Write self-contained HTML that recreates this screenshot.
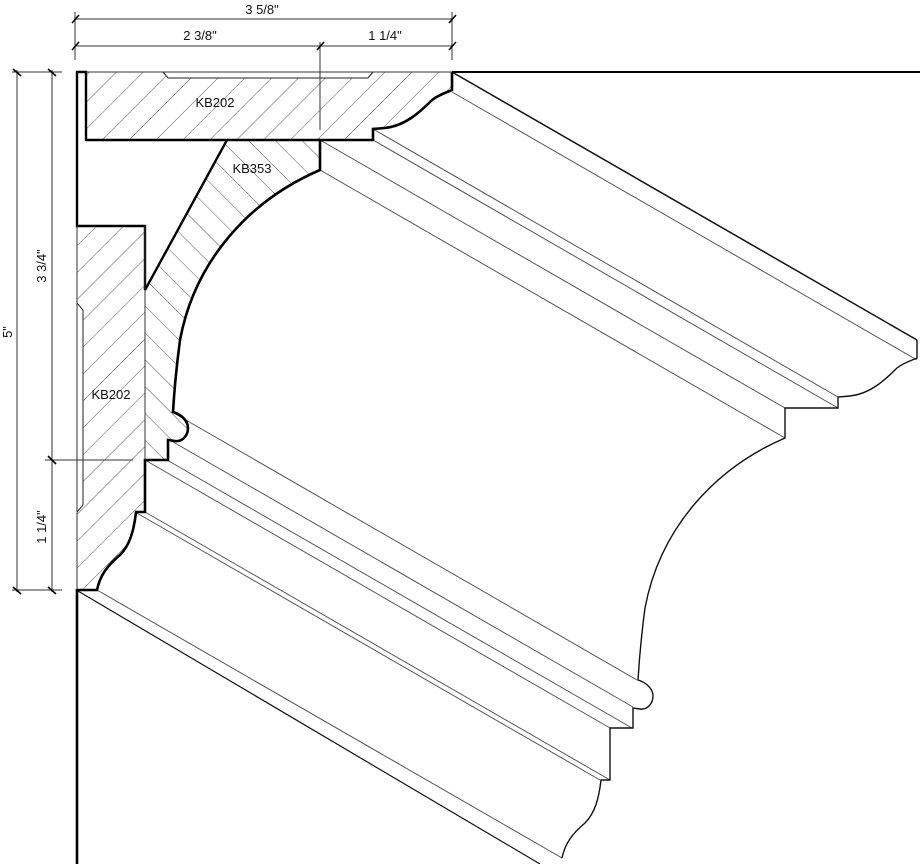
<!DOCTYPE html>
<html><head><meta charset="utf-8"><style>
html,body{margin:0;padding:0;background:#fff;width:920px;height:864px;overflow:hidden}
svg{display:block}
text{font-family:"Liberation Sans",sans-serif;font-size:13px;fill:#111}
</style></head><body>
<svg width="920" height="864" viewBox="0 0 920 864" xmlns="http://www.w3.org/2000/svg">
<defs>
<pattern id="h1" patternUnits="userSpaceOnUse" width="19" height="19" patternTransform="rotate(45)">
<line x1="0" y1="0" x2="0" y2="19" stroke="#444" stroke-width="0.9"/></pattern>
<pattern id="h2" patternUnits="userSpaceOnUse" width="19" height="19" patternTransform="rotate(-45)">
<line x1="0" y1="0" x2="0" y2="19" stroke="#444" stroke-width="0.9"/></pattern>
</defs>

<path d="M86,72 L452,72 L452,90 C448,92 440,94 432,100 C420,112 405,126 385,128 L373,129 L373,140 L86,140 Z" fill="url(#h1)"/>
<path d="M77,226 L145,226 L145,512 L136,512 C134,530 130,545 120,555 C108,565 100,575 97,590 L77,590 Z" fill="url(#h1)"/>
<path d="M227,140 L320,140 L320,170 C250,200 195,260 180,340 C176,370 174,395 173,412 C180,414 188,420 188,428 C188,436 182,442 175,441 L168,440 L168,460 L145,460 L145,290 Z" fill="url(#h2)"/>

<path d="M163,72 L168,78 L368,78 L373,72" fill="#fff" stroke="#222" stroke-width="1"/>
<path d="M77,303 L83,310 L83,505 L77,512" fill="#fff" stroke="#222" stroke-width="1"/>

<g stroke="#555" stroke-width="1" fill="none">
<line x1="452" y1="72" x2="917" y2="340" stroke="#111" stroke-width="1.5"/>
<line x1="452" y1="92" x2="917" y2="360"/>
<line x1="373" y1="129" x2="838" y2="397"/>
<line x1="373" y1="140" x2="838" y2="408"/>
<line x1="320" y1="140" x2="785" y2="408"/>
<line x1="320" y1="170" x2="785" y2="438"/>
<line x1="172" y1="412" x2="637" y2="680"/>
<line x1="168" y1="439" x2="633" y2="707"/>
<line x1="167" y1="460" x2="632" y2="728"/>
<line x1="145" y1="460" x2="610" y2="728"/>
<line x1="135" y1="512" x2="600" y2="780"/>
<line x1="145" y1="512" x2="610" y2="780"/>
<line x1="97" y1="590" x2="562" y2="858"/>
<line x1="78" y1="591" x2="540" y2="864" stroke="#111" stroke-width="1.2"/>
</g>

<path transform="translate(465,268)" d="M452,72 L452,90 C448,92 440,94 432,100 C420,112 405,126 385,128 L373,129 L373,140 L320,140 L320,170 C250,200 195,260 180,340 C176,370 174,395 173,412 C180,414 188,420 188,428 C188,436 182,442 175,441 L168,440 L168,460 L145,460 L145,512 L136,512 C134,530 130,545 120,555 C108,565 100,575 97,590" fill="none" stroke="#111" stroke-width="1.4"/>

<path d="M452,72 L452,90 C448,92 440,94 432,100 C420,112 405,126 385,128 L373,129 L373,140 L320,140 L320,170 C250,200 195,260 180,340 C176,370 174,395 173,412 C180,414 188,420 188,428 C188,436 182,442 175,441 L168,440 L168,460 L145,460 L145,512 L136,512 C134,530 130,545 120,555 C108,565 100,575 97,590 L77,590" fill="none" stroke="#000" stroke-width="2.6"/>
<path d="M77,72 L86,72 L86,140 L227,140 L145,290 L145,226 L77,226 Z" fill="#fff" stroke="#000" stroke-width="2.4"/>
<line x1="227" y1="140" x2="320" y2="140" stroke="#000" stroke-width="2.4"/>
<line x1="145" y1="226" x2="145" y2="460" stroke="#333" stroke-width="1"/>
<line x1="77" y1="226" x2="77" y2="590" stroke="#333" stroke-width="1"/>
<line x1="86" y1="72" x2="452" y2="72" stroke="#333" stroke-width="1"/>

<line x1="452" y1="72" x2="920" y2="72" stroke="#000" stroke-width="2"/>
<line x1="77" y1="589" x2="77" y2="864" stroke="#000" stroke-width="2.6"/>

<g stroke="#333" stroke-width="1" fill="none">
<line x1="75" y1="19" x2="452" y2="19"/>
<line x1="75" y1="46" x2="452" y2="46"/>
<line x1="75" y1="12" x2="75" y2="60"/>
<line x1="452" y1="12" x2="452" y2="60"/>
<line x1="320" y1="42" x2="320" y2="130"/>
<line x1="17" y1="70" x2="17" y2="592"/>
<line x1="52" y1="70" x2="52" y2="592"/>
<line x1="12" y1="72" x2="62" y2="72"/>
<line x1="12" y1="590" x2="62" y2="590"/>
<line x1="45" y1="460" x2="133" y2="460"/>
</g>
<g stroke="#000" stroke-width="1.6">
<line x1="72" y1="23" x2="79" y2="15"/><line x1="449" y1="23" x2="456" y2="15"/>
<line x1="72" y1="50" x2="79" y2="42"/><line x1="449" y1="50" x2="456" y2="42"/><line x1="317" y1="50" x2="324" y2="42"/>
<line x1="13" y1="69" x2="21" y2="76"/><line x1="48" y1="69" x2="56" y2="76"/>
<line x1="13" y1="587" x2="21" y2="594"/><line x1="48" y1="587" x2="56" y2="594"/><line x1="48" y1="456" x2="56" y2="464"/>
</g>
<text x="262" y="14" text-anchor="middle">3 5/8"</text>
<text x="200" y="40" text-anchor="middle">2 3/8"</text>
<text x="385" y="40" text-anchor="middle">1 1/4"</text>
<text transform="translate(12,332) rotate(-90)" text-anchor="middle">5"</text>
<text transform="translate(46,266) rotate(-90)" text-anchor="middle">3 3/4"</text>
<text transform="translate(46,527) rotate(-90)" text-anchor="middle">1 1/4"</text>
<text x="215" y="107" text-anchor="middle">KB202</text>
<text x="252" y="173" text-anchor="middle">KB353</text>
<text x="111" y="399" text-anchor="middle">KB202</text>
</svg>
</body></html>
